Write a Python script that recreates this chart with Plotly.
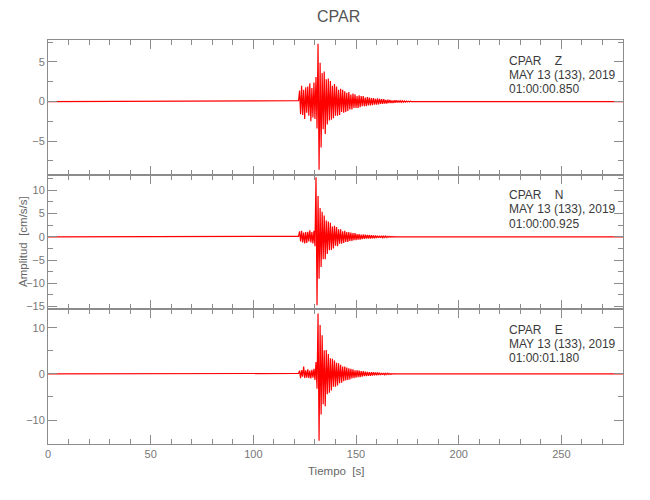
import plotly.graph_objects as go
from plotly.subplots import make_subplots

# ---------------- data ----------------
station = "CPAR"
components = ["Z", "N", "E"]
date_label = "MAY 13 (133), 2019"
start_times = ["01:00:00.850", "01:00:00.925", "01:00:01.180"]

record_start = 0.0      # s
record_end = 280.0      # s
event_start = 122.0     # s, first sample of the digitised event window
dt = 0.5                # s, sample spacing of the digitised window

z_vals = [
    0.1,
    1.4, -1.6, 2.0, -1.7, 1.5, -2.2, 1.8,
    -1.4, 1.9, -1.8, 2.3, -2.5, 1.7, -2.0, 2.4,
    -2.2, 3.1, -3.4, 7.3, -8.6, 4.9, -5.8, 3.6,
    -3.5, 3.8, -4.1, 2.8, -2.9, 2.9, -2.4, 2.6,
    -2.3, 2.0, -2.1, 2.2, -1.8, 1.9, -1.8, 1.5,
    -1.7, 1.6, -1.3, 1.5, -1.4, 1.3, -1.3, 1.1,
    -1.2, 1.2, -1.0, 0.9, -1.0, 1.0, -0.8, 0.9,
    -0.8, 0.7, -0.8, 0.8, -0.7, 0.7, -0.6, 0.7,
    -0.6, 0.5, -0.6, 0.55, -0.5, 0.5, -0.5, 0.45,
    -0.45, 0.45, -0.4, 0.35, -0.4, 0.4, -0.35, 0.35,
    -0.3, 0.3, -0.3, 0.3, -0.25, 0.2, -0.25, 0.25,
    -0.2, 0.2, -0.2, 0.15, -0.2, 0.15, -0.15, 0.15,
    -0.12, 0.12, -0.12, 0.1, -0.1, 0.1, -0.08, 0.08,
    -0.08, 0.06, -0.06, 0.05, -0.05, 0.04, 0.0,
]
n_vals = [
    0.1,
    1.2, -1.0, 1.3, -1.2, 0.9, -1.4, 1.0,
    -1.3, 1.1, -1.0, 1.4, -1.2, 1.0, -1.4, 1.3,
    -2.0, 12.8, -14.7, 8.8, -9.0, 6.2, -6.5, 5.4,
    -4.8, 4.6, -4.8, 3.5, -3.7, 3.3, -2.9, 3.0,
    -2.8, 2.2, -2.5, 2.4, -1.9, 2.1, -2.0, 1.6,
    -1.5, 1.6, -1.5, 1.2, -1.3, 1.3, -1.1, 1.0,
    -1.1, 1.0, -0.9, 0.9, -0.9, 0.8, -0.7, 0.8,
    -0.7, 0.6, -0.6, 0.6, -0.6, 0.5, -0.5, 0.5,
    -0.45, 0.45, -0.4, 0.4, -0.35, 0.4, -0.35, 0.35,
    -0.3, 0.3, -0.3, 0.3, -0.25, 0.25, -0.2, 0.25,
    -0.2, 0.2, -0.2, 0.15, -0.15, 0.15, -0.15, 0.1,
    -0.1, 0.1, -0.08, 0.08, -0.06, 0.05, 0.0,
]
e_vals = [
    0.1,
    0.7, -0.9, 0.8, -0.6, 1.6, -0.9, 0.8,
    -0.8, 1.0, -0.9, 0.7, -1.0, 0.9, -0.8, 1.1,
    -1.3, 2.6, -3.2, 13.1, -14.5, 10.6, -8.8, 8.4,
    -6.6, 5.1, -7.0, 5.2, -4.4, 4.3, -4.1, 3.4,
    -3.6, 3.3, -2.8, 2.9, -2.8, 2.4, -2.5, 2.3,
    -2.0, 2.0, -1.9, 1.6, -1.6, 1.6, -1.4, 1.4,
    -1.3, 1.2, -1.2, 1.1, -1.0, 1.0, -0.9, 0.8,
    -0.8, 0.8, -0.7, 0.7, -0.7, 0.6, -0.6, 0.6,
    -0.5, 0.5, -0.5, 0.45, -0.45, 0.4, -0.4, 0.4,
    -0.35, 0.35, -0.3, 0.3, -0.3, 0.3, -0.25, 0.25,
    -0.25, 0.2, -0.2, 0.2, -0.2, 0.15, -0.15, 0.15,
    -0.1, 0.1, -0.1, 0.08, -0.06, 0.05, 0.0,
]
series = [z_vals, n_vals, e_vals]

# ---------------- styling ----------------
y_ranges = [[-9.23, 7.77], [-15.58, 13.36], [-15.2, 14.0]]
y_major = [5, 5, 10]
y_minor = [2.5, 2.5, 5]
x_range = [0, 280]

FONT = "Liberation Sans Narrow, Liberation Sans, Arial, sans-serif"
AXIS = "#8c8c8c"
TICKTXT = "#777777"
TXT = "#3a3a3a"
RED = "#ff0000"

fig = make_subplots(rows=3, cols=1, shared_xaxes=True, vertical_spacing=0)

for i, vals in enumerate(series):
    t = [record_start] + [event_start + dt * k for k in range(len(vals))] + [record_end]
    y = [0.0] + list(vals) + [0.0]
    fig.add_trace(
        go.Scatter(x=t, y=y, mode="lines", line=dict(color=RED, width=1.2),
                   showlegend=False, hoverinfo="skip"),
        row=i + 1, col=1,
    )
    fig.update_yaxes(
        range=y_ranges[i], tick0=0, dtick=y_major[i],
        ticks="inside", ticklen=9, tickcolor=AXIS, tickwidth=1,
        showline=True, linecolor=AXIS, linewidth=1, mirror="ticks",
        showgrid=False, zeroline=False,
        tickfont=dict(family=FONT, size=11, color=TICKTXT),
        minor=dict(tick0=0, dtick=y_minor[i], ticks="inside", ticklen=5,
                   tickcolor=AXIS, showgrid=False),
        row=i + 1, col=1,
    )
    fig.update_xaxes(
        range=x_range, tick0=0, dtick=50,
        ticks="inside", ticklen=9, tickcolor=AXIS, tickwidth=1,
        showline=True, linecolor=AXIS, linewidth=1, mirror="ticks",
        showgrid=False, zeroline=False,
        tickfont=dict(family=FONT, size=11, color=TICKTXT),
        minor=dict(tick0=0, dtick=10, ticks="inside", ticklen=5,
                   tickcolor=AXIS, showgrid=False),
        row=i + 1, col=1,
    )

# page coordinates of the plot area (the html body adds an 8 px offset)
PX_L, PX_R, PX_T, PX_B = 48, 623, 40, 444
PW, PH = PX_R - PX_L, PX_B - PX_T

annotations = []
panel_h = PH / 3.0
for i, comp in enumerate(components):
    yref = "y domain" if i == 0 else f"y{i + 1} domain"
    lines = [f"{station}\u00a0\u00a0\u00a0\u00a0{comp}", date_label, start_times[i]]
    offsets = [20.5, 34.5, 49.0]
    for txt, off in zip(lines, offsets):
        annotations.append(dict(
            text=txt, xref="paper", x=(507 - PX_L) / PW, xanchor="left",
            yref=yref, y=1 - off / panel_h, yanchor="middle",
            showarrow=False, font=dict(family=FONT, size=12, color=TXT),
        ))

annotations.append(dict(text=station, xref="paper", x=(338 - PX_L) / PW, xanchor="center",
                        yref="paper", y=(PX_B - 17) / PH, yanchor="middle",
                        showarrow=False, font=dict(family=FONT, size=16, color="#555555")))
annotations.append(dict(text="Tiempo\u00a0\u00a0[s]", xref="paper", x=(336 - PX_L) / PW,
                        xanchor="center", yref="paper", y=(PX_B - 471) / PH, yanchor="middle",
                        showarrow=False, font=dict(family=FONT, size=11.5, color="#666666")))
annotations.append(dict(text="Amplitud\u00a0\u00a0[cm/s/s]", xref="paper", x=(23 - PX_L) / PW,
                        xanchor="center", yref="paper", y=(PX_B - 242) / PH,
                        yanchor="middle", textangle=-90,
                        showarrow=False, font=dict(family=FONT, size=11.5, color="#666666")))

fig.update_layout(
    width=650, height=500,
    margin=dict(l=PX_L - 8, r=650 - (PX_R - 8), t=PX_T - 8, b=500 - (PX_B - 8)),
    paper_bgcolor="white", plot_bgcolor="white",
    annotations=annotations,
    showlegend=False,
)

fig.write_html("out.html")
